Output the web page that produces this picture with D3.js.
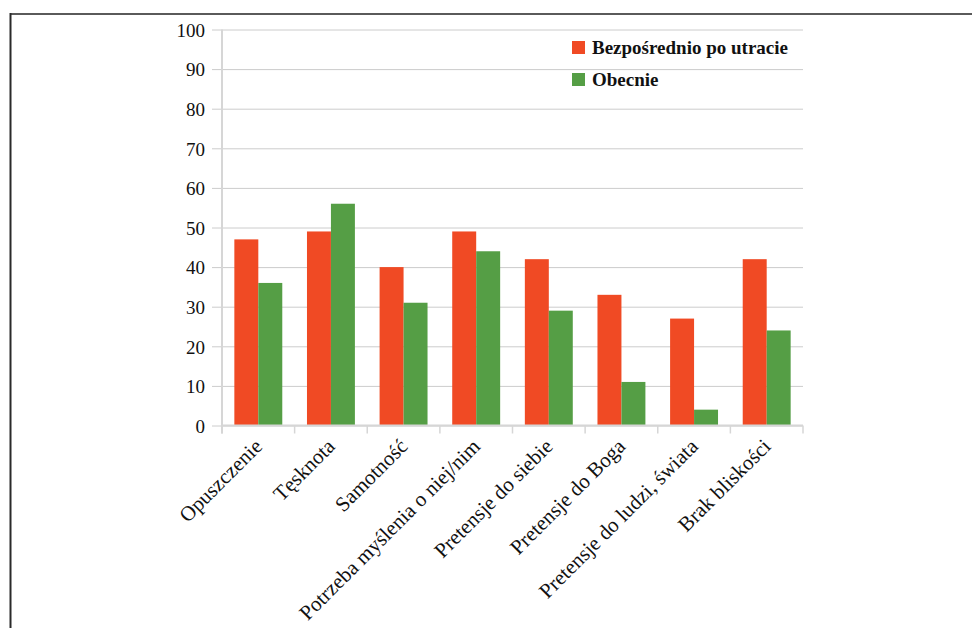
<!DOCTYPE html>
<html>
<head>
<meta charset="utf-8">
<script src="https://cdn.jsdelivr.net/npm/d3@7"></script>
<style>
  html, body { margin: 0; padding: 0; background: #fff; }
  svg { display: block; }
</style>
</head>
<body>
<svg id="chart" width="972" height="628"></svg>
<script>
// Categories and values (percent)
const categories = [
  "Opuszczenie",
  "Tęsknota",
  "Samotność",
  "Potrzeba myślenia o niej/nim",
  "Pretensje do siebie",
  "Pretensje do Boga",
  "Pretensje do ludzi, świata",
  "Brak bliskości"
];
const seriesNames = ["Bezpośrednio po utracie", "Obecnie"];
const afterLoss = [47, 49, 40, 49, 42, 33, 27, 42];
const nowValues = [36, 56, 31, 44, 29, 11, 4, 24];
const yTicks = [0, 10, 20, 30, 40, 50, 60, 70, 80, 90, 100];
const colors = ["#F04A24", "#559E45"];

const svg = d3.select("#chart");
const fontFamily = "'Liberation Serif', 'DejaVu Serif', serif";

// Outer frame (top and left edges visible)
svg.append("line").attr("x1", 10).attr("x2", 972).attr("y1", 14).attr("y2", 14)
  .attr("stroke", "#5a5a5a").attr("stroke-width", 2);
svg.append("line").attr("x1", 10.5).attr("x2", 10.5).attr("y1", 13).attr("y2", 628)
  .attr("stroke", "#2a2a2a").attr("stroke-width", 2);

const plot = { left: 222, right: 803, top: 29.5, bottom: 425.5 };

const x = d3.scaleBand().domain(categories).range([plot.left, plot.right]).paddingInner(0.34).paddingOuter(0.17);
const x1 = d3.scaleBand().domain(seriesNames).range([0, x.bandwidth()]);
const y = d3.scaleLinear().domain([0, 100]).range([plot.bottom, plot.top]);

// Horizontal gridlines with outward ticks
const yAxis = d3.axisLeft(y).tickValues(yTicks).tickSize(-(plot.right - plot.left)).tickSizeOuter(0).tickPadding(17);
const gy = svg.append("g").attr("transform", `translate(${plot.left},0)`).call(yAxis);
gy.select(".domain").remove();
gy.selectAll(".tick line").attr("stroke", "#cccccc").attr("stroke-width", 1).attr("x1", -10);
gy.selectAll(".tick text")
  .attr("font-family", fontFamily).attr("font-size", 19).attr("fill", "#111")
  .attr("dy", "0.36em");

// Bars
const rows = categories.map((c, i) => ({ cat: c, vals: [afterLoss[i], nowValues[i]] }));
const groups = svg.append("g").selectAll("g").data(rows).join("g")
  .attr("transform", d => `translate(${x(d.cat)},0)`);
groups.selectAll("rect").data(d => d.vals.map((v, k) => ({ v, k }))).join("rect")
  .attr("x", d => x1(seriesNames[d.k]))
  .attr("width", x1.bandwidth())
  .attr("y", d => y(d.v))
  .attr("height", d => y(0) - y(d.v))
  .attr("fill", d => colors[d.k]);

// Axis lines
svg.append("line").attr("x1", plot.left).attr("x2", plot.left).attr("y1", plot.top).attr("y2", plot.bottom + 8)
  .attr("stroke", "#d6d6d6").attr("stroke-width", 2);
svg.append("line").attr("x1", plot.left).attr("x2", plot.right).attr("y1", plot.bottom).attr("y2", plot.bottom)
  .attr("stroke", "#d6d6d6").attr("stroke-width", 2);

// Category separators on the x axis
const boundaries = d3.range(categories.length + 1).map(i => plot.left + i * (plot.right - plot.left) / categories.length);
svg.append("g").selectAll("line").data(boundaries).join("line")
  .attr("x1", d => d).attr("x2", d => d)
  .attr("y1", plot.bottom).attr("y2", plot.bottom + 8)
  .attr("stroke", "#d6d6d6").attr("stroke-width", 1.5);

// Rotated category labels
svg.append("g").selectAll("text").data(categories).join("text")
  .attr("transform", d => `translate(${x(d) + x.bandwidth() / 2},${plot.bottom + 17}) rotate(-45)`)
  .attr("text-anchor", "end")
  .attr("dy", "0.35em")
  .attr("font-family", fontFamily).attr("font-size", 21).attr("fill", "#111")
  .text(d => d);

// Legend
const legend = svg.append("g").attr("transform", "translate(572,41)");
const li = legend.selectAll("g").data(seriesNames).join("g")
  .attr("transform", (d, i) => `translate(0,${i * 32})`);
li.append("rect").attr("width", 13).attr("height", 13).attr("fill", (d, i) => colors[i]);
li.append("text").attr("x", 20).attr("y", 13)
  .attr("font-family", fontFamily).attr("font-size", 19).attr("font-weight", "bold").attr("fill", "#111")
  .text(d => d);
</script>
</body>
</html>
